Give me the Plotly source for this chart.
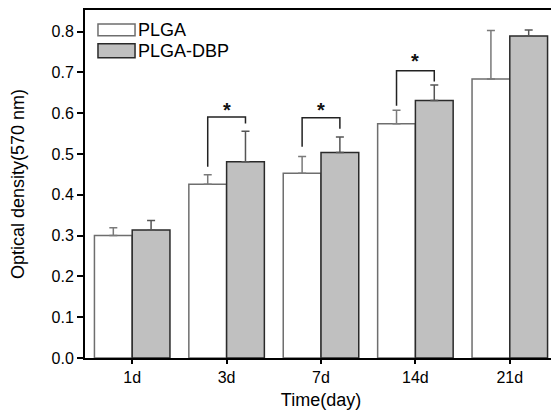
import plotly.graph_objects as go

categories = ["1d", "3d", "7d", "14d", "21d"]
plga = [0.300, 0.426, 0.453, 0.574, 0.684]
plga_err = [0.019, 0.023, 0.041, 0.033, 0.119]
dbp = [0.314, 0.481, 0.504, 0.631, 0.789]
dbp_err = [0.023, 0.075, 0.038, 0.038, 0.015]

# significance brackets: category index, left-start, top, right-end, asterisk y
sig_idx = [1, 2, 3]
sig_left_start = [0.469, 0.518, 0.618]
sig_top = [0.591, 0.589, 0.704]
sig_right_end = [0.575, 0.562, 0.678]
sig_star_y = [0.609, 0.608, 0.727]

FONT = "Liberation Sans, Arial, sans-serif"

fig = go.Figure()
fig.add_trace(go.Bar(
    x=categories, y=plga, name="PLGA",
    marker=dict(color="white", line=dict(color="#6e6e6e", width=1.5)),
    error_y=dict(type="data", array=plga_err, arrayminus=[0]*5, symmetric=False,
                 color="#7a7a7a", thickness=1.5, width=4),
))
fig.add_trace(go.Bar(
    x=categories, y=dbp, name="PLGA-DBP",
    marker=dict(color="#c0c0c0", line=dict(color="#2a2a2a", width=1.5)),
    error_y=dict(type="data", array=dbp_err, arrayminus=[0]*5, symmetric=False,
                 color="#555555", thickness=1.5, width=4),
))

shapes = []
annotations = []
for i, ls, top, re, sy in zip(sig_idx, sig_left_start, sig_top, sig_right_end, sig_star_y):
    xl = i - 0.2
    xr = i + 0.2
    path = f"M {xl} {ls} L {xl} {top} L {xr} {top} L {xr} {re}"
    shapes.append(dict(type="path", xref="x", yref="y", path=path,
                       line=dict(color="#222222", width=1.5)))
    annotations.append(dict(x=i, y=sy, xref="x", yref="y", text="<b>*</b>", showarrow=False,
                            font=dict(size=20, color="#111111", family=FONT),
                            yanchor="middle"))

# manual legend
leg_items = [("PLGA", "white", "#6e6e6e", 0.960, 0.926),
             ("PLGA-DBP", "#c0c0c0", "#2a2a2a", 0.903, 0.863)]
for name, fill, lc, y1, y0 in leg_items:
    shapes.append(dict(type="rect", xref="paper", yref="paper",
                       x0=0.0275, x1=0.106, y0=y0, y1=y1,
                       fillcolor=fill, line=dict(color=lc, width=1.5)))
    annotations.append(dict(x=0.109, y=(y0 + y1) / 2, xref="paper", yref="paper",
                            text=name, showarrow=False, xanchor="left", yanchor="middle",
                            font=dict(size=18, color="black", family=FONT)))

# page has an 8px body margin, so the figure is sized/offset to compensate
fig.update_layout(
    width=551, height=407,
    margin=dict(l=77, r=2, t=0, b=57),
    paper_bgcolor="white", plot_bgcolor="white",
    barmode="group", bargap=0.2, bargroupgap=0,
    showlegend=False,
    shapes=shapes, annotations=annotations,
    font=dict(family=FONT, color="black"),
)
fig.update_xaxes(
    type="category", range=[-0.5, 4.5],
    showline=True, linecolor="black", linewidth=2, mirror=True,
    ticks="outside", ticklen=4, tickwidth=1.5, tickcolor="black",
    tickfont=dict(size=16, family=FONT),
    title=dict(text="Time(day)", font=dict(size=18, family=FONT), standoff=8),
    showgrid=False,
)
fig.update_yaxes(
    range=[0, 0.853], dtick=0.1, tickformat=".1f",
    showline=True, linecolor="black", linewidth=2, mirror=True,
    ticks="outside", ticklen=6, tickwidth=2, tickcolor="black",
    tickfont=dict(size=16, family=FONT),
    title=dict(text="Optical density(570 nm)", font=dict(size=18, family=FONT), standoff=28),
    showgrid=False, zeroline=False,
)

fig.write_html("out.html")
